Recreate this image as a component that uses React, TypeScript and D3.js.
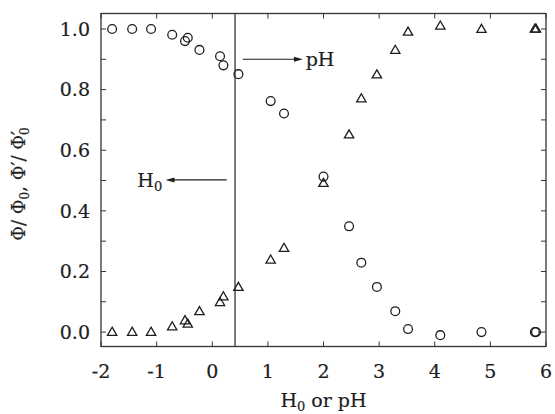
import React, { useEffect, useRef } from 'react';
import * as d3 from 'd3';

// acidity scale values (H0 or pH), shared by both series
const xs = [-1.8, -1.44, -1.1, -0.72, -0.49, -0.44, -0.23, 0.14, 0.2, 0.47, 1.05, 1.29, 2.0, 2.46, 2.68, 2.96, 3.29, 3.52, 4.1, 4.84, 5.8, 5.82];
// circles: Φ/Φ0
const phi = [1.0, 1.0, 1.0, 0.981, 0.96, 0.971, 0.931, 0.91, 0.88, 0.851, 0.762, 0.721, 0.513, 0.349, 0.229, 0.149, 0.069, 0.01, -0.01, 0.0, 0.0, 0.0];
// triangles: Φ'/Φ'0
const phiPrime = [0.0, 0.0, 0.0, 0.018, 0.038, 0.027, 0.068, 0.098, 0.117, 0.148, 0.238, 0.277, 0.491, 0.651, 0.77, 0.849, 0.93, 0.99, 1.01, 0.999, 1.0, 1.0];

const xTicks = [-2, -1, 0, 1, 2, 3, 4, 5, 6];
const yTicks = [0, 0.2, 0.4, 0.6, 0.8, 1.0];
const yMinor = d3.range(0, 11).map(i => i / 10);

const splitAt = 0.41; // H0 / pH boundary line

const W = 555, H = 414;
const margin = { top: 13.5, right: 9, bottom: 67.5, left: 101 };
const FONT = '"DejaVu Serif", serif';
const INK = '#1e1e1e';

function App() {
  const ref = useRef<SVGSVGElement>(null);

  useEffect(() => {
    const svg = d3.select(ref.current);
    svg.selectAll('*').remove();

    const iw = W - margin.left - margin.right;
    const ih = H - margin.top - margin.bottom;
    const x = d3.scaleLinear().domain([-2, 6]).range([0, iw]);
    const y = d3.scaleLinear().domain([-0.0475, 1.051]).range([ih, 0]);

    const g = svg.append('g').attr('transform', `translate(${margin.left},${margin.top})`);

    // frame
    g.append('rect').attr('width', iw).attr('height', ih)
      .attr('fill', 'none').attr('stroke', '#333').attr('stroke-width', 1.3);

    // inward ticks
    const tl = 5;
    xTicks.forEach(t => {
      g.append('line').attr('x1', x(t)).attr('x2', x(t)).attr('y1', ih).attr('y2', ih - tl).attr('stroke', '#333');
      g.append('line').attr('x1', x(t)).attr('x2', x(t)).attr('y1', 0).attr('y2', tl).attr('stroke', '#333');
    });
    yMinor.forEach(t => {
      g.append('line').attr('x1', 0).attr('x2', tl).attr('y1', y(t)).attr('y2', y(t)).attr('stroke', '#333');
      g.append('line').attr('x1', iw).attr('x2', iw - tl).attr('y1', y(t)).attr('y2', y(t)).attr('stroke', '#333');
    });

    const txt = (sel: any, size: number) => sel
      .attr('font-family', FONT).attr('font-size', size).attr('fill', INK)
      .attr('stroke', INK).attr('stroke-width', 0.2);

    // tick labels
    txt(g.selectAll('.xl').data(xTicks).enter().append('text')
      .attr('x', (d: number) => x(d)).attr('y', ih + 31)
      .attr('text-anchor', 'middle'), 19)
      .text((d: number) => String(d));
    txt(g.selectAll('.yl').data(yTicks).enter().append('text')
      .attr('x', -11).attr('y', (d: number) => y(d)).attr('dy', '0.36em')
      .attr('text-anchor', 'end'), 19)
      .text((d: number) => d.toFixed(1));

    // x title
    const xt = txt(svg.append('text').attr('x', margin.left + iw / 2).attr('y', 407)
      .attr('text-anchor', 'middle'), 19);
    xt.append('tspan').text('H');
    xt.append('tspan').attr('font-size', 13).attr('dy', 4).text('0');
    xt.append('tspan').attr('dy', -4).text(' or pH');

    // y title
    const yt = txt(svg.append('text').attr('transform', `translate(25,${margin.top + ih / 2 + 4}) rotate(-90)`)
      .attr('text-anchor', 'middle'), 18);
    yt.append('tspan').text('Φ/ Φ');
    yt.append('tspan').attr('font-size', 12).attr('dy', 4).text('0');
    yt.append('tspan').attr('dy', -4).text(', Φ′/ Φ′');
    yt.append('tspan').attr('font-size', 12).attr('dy', 4).attr('dx', -4).text('0');

    // boundary line
    g.append('line').attr('x1', x(splitAt)).attr('x2', x(splitAt)).attr('y1', 0).attr('y2', ih)
      .attr('stroke', '#333').attr('stroke-width', 1.3);

    // arrows
    const arrow = (x0: number, x1: number, yv: number) => {
      const dir = Math.sign(x(x1) - x(x0));
      g.append('line').attr('x1', x(x0)).attr('x2', x(x1) - dir * 6).attr('y1', y(yv)).attr('y2', y(yv))
        .attr('stroke', INK).attr('stroke-width', 1.1);
      const tx = x(x1), ty = y(yv);
      g.append('path').attr('d', `M${tx},${ty} L${tx - dir * 9},${ty - 2.5} L${tx - dir * 9},${ty + 2.5} Z`).attr('fill', INK);
    };
    arrow(0.55, 1.63, 0.9);
    arrow(0.26, -0.84, 0.502);

    txt(g.append('text').attr('x', x(1.68)).attr('y', y(0.9)).attr('dy', '0.36em'), 19).text('pH');
    const h0 = txt(g.append('text').attr('x', x(-0.9)).attr('y', y(0.502)).attr('dy', '0.36em')
      .attr('text-anchor', 'end'), 19);
    h0.append('tspan').text('H');
    h0.append('tspan').attr('font-size', 13).attr('dy', 4).text('0');

    // markers
    g.selectAll('.c').data(xs).enter().append('circle')
      .attr('cx', d => x(d)).attr('cy', (d, i) => y(phi[i])).attr('r', 4.4)
      .attr('fill', 'none').attr('stroke', INK).attr('stroke-width', 1.3);
    const tri = d3.symbol().type(d3.symbolTriangle).size(38);
    g.selectAll('.t').data(xs).enter().append('path')
      .attr('d', tri as any)
      .attr('transform', (d, i) => `translate(${x(d)},${y(phiPrime[i]) + 0.5})`)
      .attr('fill', 'none').attr('stroke', INK).attr('stroke-width', 1.3);
  }, []);

  return (
    <svg ref={ref} width={W} height={H}
      style={{ position: 'absolute', left: 0, top: 0, background: '#fff' }} />
  );
}

export default App;
